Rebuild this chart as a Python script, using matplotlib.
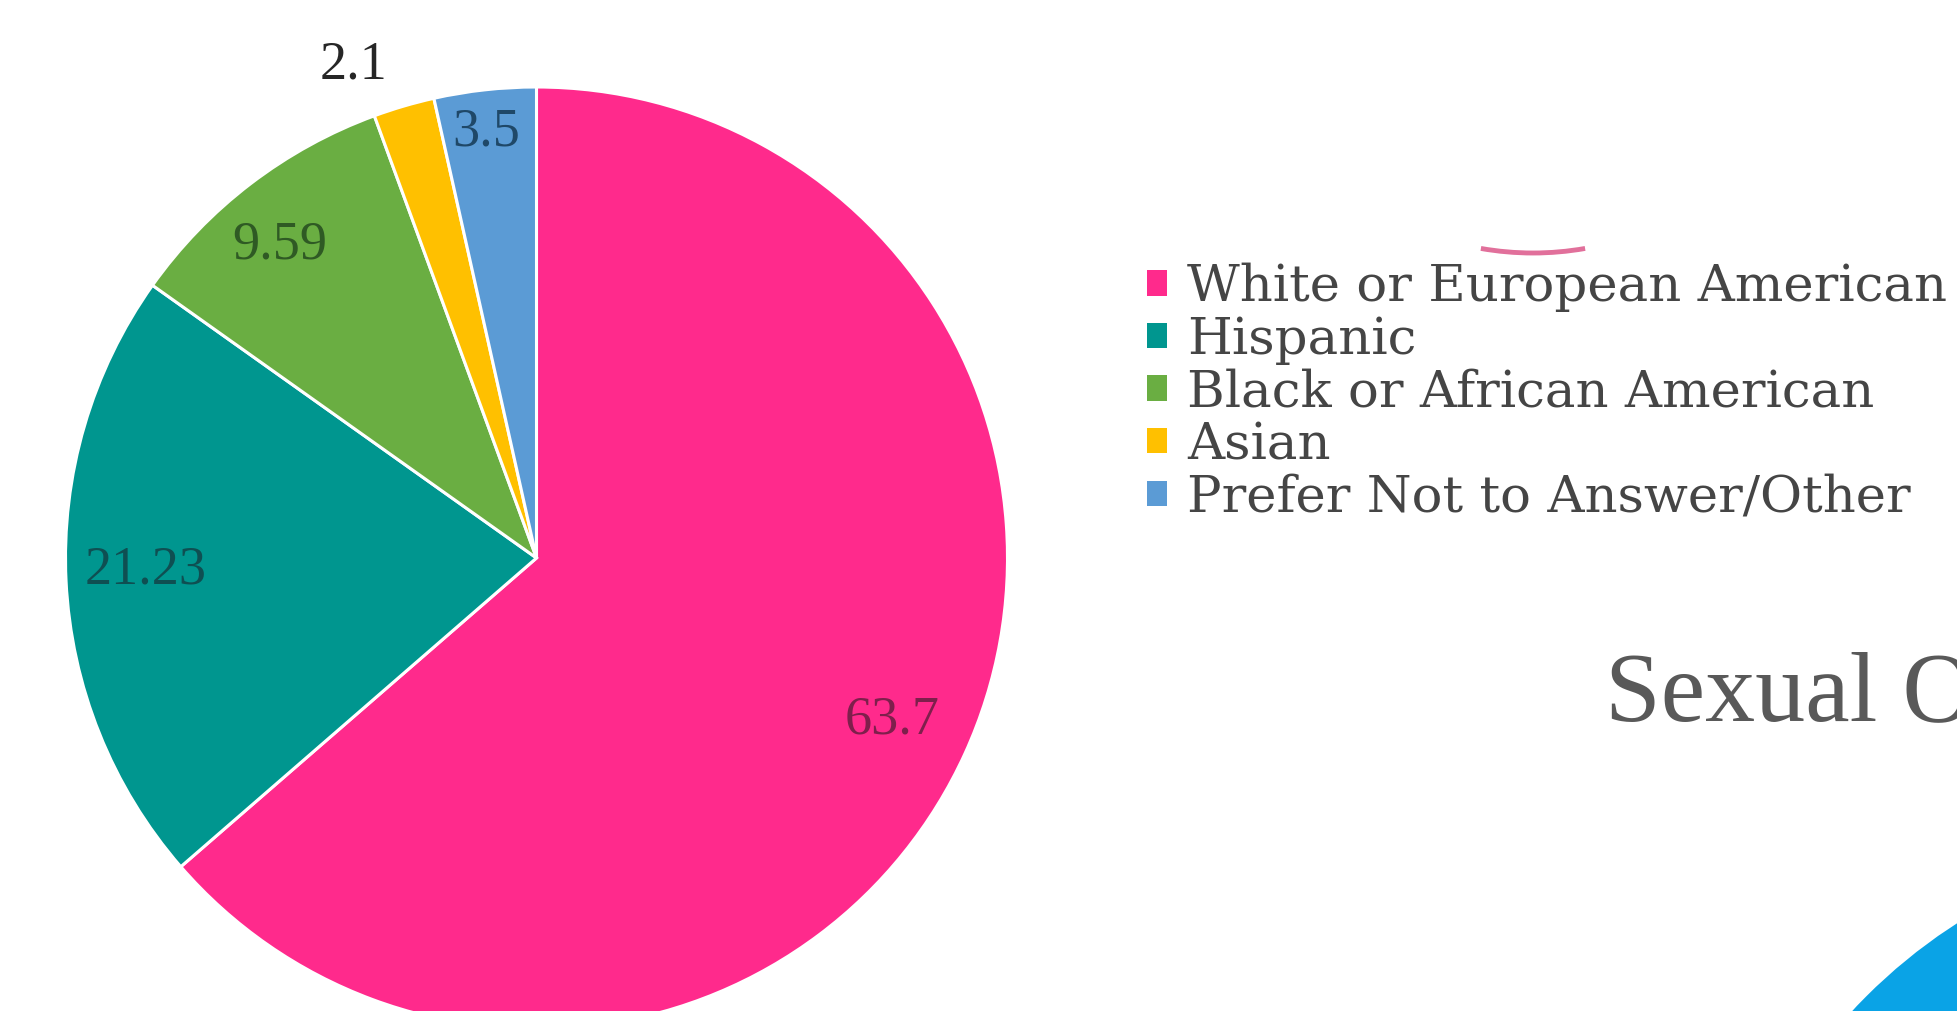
import matplotlib.pyplot as plt
import numpy as np
from matplotlib.patches import Patch, Circle, Arc

# Data
categories = ['White or European American', 'Hispanic', 'Black or African American',
              'Asian', 'Prefer Not to Answer/Other']
values = [63.7, 21.23, 9.59, 2.1, 3.5]
value_labels = ['63.7', '21.23', '9.59', '2.1', '3.5']

colors = ['#FF2A8C', '#00968F', '#6AAE42', '#FFC000', '#5B9BD5']
label_colors = ['#7E1F4C', '#0F4F52', '#2F5A24', '#262626', '#1F4868']
# label distance (in radii) and angle shift (deg) for each data label
label_r = [0.83, 0.83, 0.86, 1.117, 0.91]
label_dang = [0, -1, 2, 4, 0.4]

W, H = 1957, 1011
fig = plt.figure(figsize=(W / 100, H / 100), dpi=100)

# pie axes, placed in pixels (centre and radius measured on the picture)
cx, cy, r = 536.5, H - 558, 471
ax = fig.add_axes([(cx - r) / W, (cy - r) / H, 2 * r / W, 2 * r / H])
wedges, _ = ax.pie(values, colors=colors, startangle=90, counterclock=False,
                   wedgeprops=dict(edgecolor='white', linewidth=2.2))
ax.set_xlim(-1, 1)
ax.set_ylim(-1, 1)
ax.axis('off')

for w, lab, lc, rr, da in zip(wedges, value_labels, label_colors, label_r, label_dang):
    ang = np.deg2rad((w.theta1 + w.theta2) / 2 + da)
    ax.text(rr * np.cos(ang), rr * np.sin(ang), lab, ha='center', va='center',
            fontsize=39, family='Liberation Serif', color=lc, clip_on=False)

handles = [Patch(facecolor=c, edgecolor='none') for c in colors]
fig.legend(handles, categories, loc='upper left', bbox_to_anchor=(1147 / W, 1 - 263 / H),
           frameon=False, prop=dict(family='DejaVu Serif', size=37),
           handlelength=0.38, handleheight=0.38, handletextpad=0.4,
           labelspacing=0.06, borderpad=0, borderaxespad=0, labelcolor='#454545')

# pieces of the next chart that show at the edges of the screenshot
fig.text(1605 / W, 1 - 720 / H, 'Sexual Orientation', fontsize=72,
         family='Liberation Serif', color='#595959', ha='left', va='baseline')
fig.patches.append(Circle((2250, H - 1380), 544, transform=None, facecolor='#0AA3E6',
                          edgecolor='white', linewidth=2, zorder=3))
fig.patches.append(Arc((1533, H - 253 + 300), 600, 600, theta1=260, theta2=280,
                       transform=None, color='#D8407A', linewidth=3.5, alpha=0.75))

fig.savefig('out.png', dpi=100)
